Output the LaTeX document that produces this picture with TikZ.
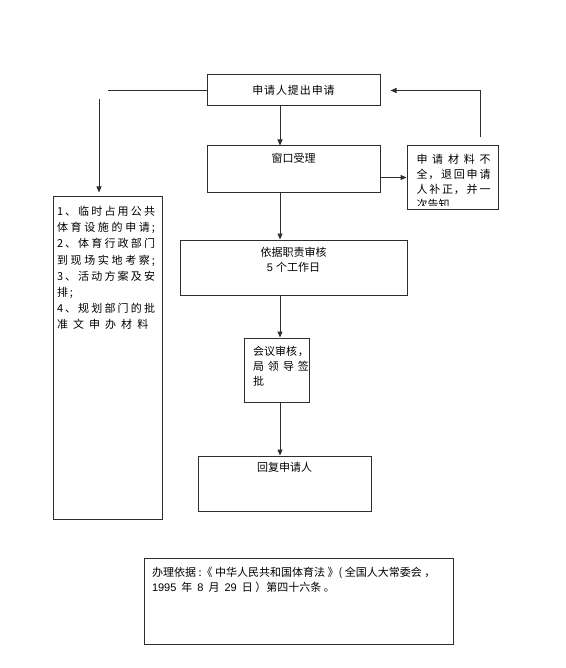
\documentclass[tikz,border=0pt]{standalone}
\usepackage{fontspec}
\setmainfont[LetterSpace=8]{Noto Sans CJK SC}
\newfontfamily\widecjk[LetterSpace=18]{Noto Sans CJK SC}
\newfontfamily\basiscjk[LetterSpace=23]{Noto Sans CJK SC}
\newfontfamily\latindigits{Liberation Sans}
\setlength{\parindent}{0pt}
\XeTeXlinebreaklocale "zh"
\XeTeXlinebreakskip=0pt plus 6pt
\usetikzlibrary{arrows.meta,positioning}
\usepackage{xcolor}
\definecolor{LineGray}{RGB}{45,45,45}

\begin{document}
\begin{tikzpicture}[x=1pt, y=-1pt,
            box/.style={draw=LineGray, line width=1pt, inner sep=0pt, font=\fontsize{11pt}{15pt}\selectfont},
            arr/.style={-{Triangle[length=6pt,width=5pt]}, draw=LineGray, line width=1pt},
            plain/.style={draw=LineGray, line width=1pt}
        ]
            \useasboundingbox (0,0) rectangle (565,668);
            \coordinate (spine) at (280,0);
            \coordinate (drop)  at (99,99);
            \node[box, minimum width=173pt, minimum height=31pt] (apply) at (293.5,90.5) {申请人提出申请};
            \node[box] (window) at (293.5,169.5) {\parbox[c][47pt][t]{173pt}{\centering\vspace{7pt}窗口受理}};
            \node[box, minimum width=91pt, minimum height=63pt,
                  path picture={\clip (path picture bounding box.north west) rectangle ([yshift=3.5pt]path picture bounding box.south east);
                                \node[anchor=north west, inner sep=0pt, minimum width=0pt, minimum height=0pt,
                                      font=\fontsize{11pt}{15pt}\selectfont] (backtext)
                      at ([xshift=9pt,yshift=-7.5pt]path picture bounding box.north west)
                      {\parbox[t]{74pt}{申请材料不\linebreak 全，退回申请\linebreak 人补正，并一\linebreak 次告知}};}] (back) at (452.5,177.5) {};
            \node[box] (list) at (107.5,358) {\parbox[c][322pt][t]{109pt}{\leftskip=4pt\rightskip=7pt\parfillskip=0pt plus 8pt\vspace{9.5pt}%
                \widecjk\fontsize{11pt}{16.1pt}\selectfont
                1、临时占用公共\linebreak 体育设施的申请;\linebreak 2、体育行政部门\linebreak 到现场实地考察;\linebreak
                3、活动方案及安\linebreak 排;\newline 4、规划部门的批\linebreak 准文申办材料}};
            \node[box] (check) at (293.5,267.5) {\parbox[c][55pt][t]{227pt}{\centering\vspace{7pt}依据职责审核\\{\latindigits 5} 个工作日}};
            \node[box] (review) at (276.5,370) {\parbox[c][64pt][t]{65pt}{\leftskip=9pt\vspace{8pt}%
                会议审核，\linebreak 局领导签\linebreak 批}};
            \node[box] (reply) at (284.5,483.5) {\parbox[c][55pt][t]{173pt}{\centering\vspace{6.5pt}回复申请人}};
            \node[box] (basis) at (298.5,601) {\parbox[c][86pt][t]{309pt}{\raggedright\leftskip=8pt\vspace{9pt}\basiscjk
                办理依据:《中华人民共和国体育法》(全国人大常委会，\\{\latindigits 1995} 年 {\latindigits 8} 月 {\latindigits 29} 日）第四十六条。}};
            % main flow
            \draw[arr] (apply.south -| spine)  -- (window.north -| spine);
            \draw[arr] (window.south -| spine) -- (check.north -| spine);
            \draw[arr] (check.south -| spine)  -- (review.north -| spine);
            \draw[arr] (review.south -| spine) -- (reply.north -| spine);
            % return loop
            \draw[arr] (window.east |- back.west) -- (back.west);
            \draw[arr] ([xshift=27.5pt,yshift=8pt]back.north) |- ([xshift=10pt]apply.east);
            % materials
            \draw[plain] (apply.west) -- ++(-99,0);
            \draw[arr, shorten >=4pt] (drop) -- (drop |- list.north);
        \end{tikzpicture}
\end{document}
